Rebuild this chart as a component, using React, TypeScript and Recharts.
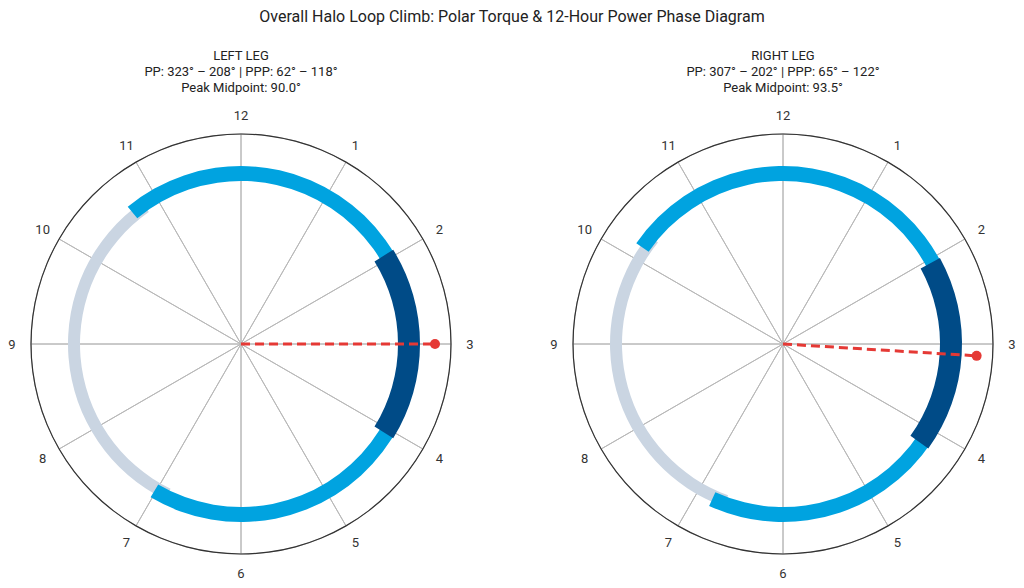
import { Pie, PieChart } from "recharts";

const RADIAN = Math.PI / 180;

// one entry per leg
const legNames = ["LEFT LEG", "RIGHT LEG"];
const ppStart = [323, 307];
const ppEnd = [208, 202];
const pppStart = [62, 65];
const pppEnd = [118, 122];
const peakMidpoint = [90.0, 93.5];

const hourLabels = ["12", "1", "2", "3", "4", "5", "6", "7", "8", "9", "10", "11"];

const CENTERS = [241, 783];
const CY = 344;
const OUTER = 210;

const hourData = hourLabels.map((h) => ({ name: h, value: 1 }));
const single = [{ name: "arc", value: 1 }];

// pedal degrees (0 = top, clockwise) -> recharts angles.
// arcs get a square "projecting" cap: half the band width added at each end
function arcAngles(start: number, end: number, inner: number, outer: number) {
  const pad = ((outer - inner) / 2 / ((outer + inner) / 2)) / RADIAN;
  const span = ((end - start + 360) % 360) + 2 * pad;
  const startAngle = 90 - start + pad;
  return { startAngle, endAngle: startAngle - span };
}

function renderHour(props: any) {
  const { cx, cy, midAngle, name } = props;
  const r = 229;
  const x = cx + r * Math.cos(-midAngle * RADIAN);
  const y = cy + r * Math.sin(-midAngle * RADIAN);
  return (
    <text
      x={x}
      y={y}
      textAnchor="middle"
      dominantBaseline="central"
      fontSize={13}
      fill="#333"
      fontFamily="Roboto, sans-serif"
    >
      {name}
    </text>
  );
}

function renderPeak(props: any) {
  const { cx, cy, midAngle, outerRadius } = props;
  const x = cx + outerRadius * Math.cos(-midAngle * RADIAN);
  const y = cy + outerRadius * Math.sin(-midAngle * RADIAN);
  return (
    <g>
      <line
        x1={cx}
        y1={cy}
        x2={x}
        y2={y}
        stroke="#E53935"
        strokeWidth={3}
        strokeDasharray="9 5"
      />
      <circle cx={x} cy={y} r={5} fill="#E53935" />
    </g>
  );
}

function band(
  key: string,
  cx: number,
  start: number,
  end: number,
  inner: number,
  outer: number,
  color: string
) {
  const a = arcAngles(start, end, inner, outer);
  return (
    <Pie
      key={key}
      data={single}
      dataKey="value"
      cx={cx}
      cy={CY}
      innerRadius={inner}
      outerRadius={outer}
      startAngle={a.startAngle}
      endAngle={a.endAngle}
      fill={color}
      stroke="none"
      isAnimationActive={false}
    />
  );
}

function legPies(i: number) {
  const cx = CENTERS[i];
  const peak = 90 - peakMidpoint[i];
  return [
    <Pie
      key={`spokes-${i}`}
      data={hourData}
      dataKey="value"
      cx={cx}
      cy={CY}
      innerRadius={0}
      outerRadius={OUTER}
      startAngle={90}
      endAngle={-270}
      fill="none"
      stroke="#b8b8b8"
      strokeWidth={1}
      isAnimationActive={false}
    />,
    <Pie
      key={`labels-${i}`}
      data={hourData}
      dataKey="value"
      cx={cx}
      cy={CY}
      innerRadius={0}
      outerRadius={OUTER}
      startAngle={105}
      endAngle={-255}
      fill="none"
      stroke="none"
      label={renderHour}
      labelLine={false}
      isAnimationActive={false}
    />,
    band(`gray-${i}`, cx, ppEnd[i], ppStart[i], 161, 173, "#CAD5E2"),
    band(`pp-${i}`, cx, ppStart[i], ppEnd[i], 163, 178, "#00A3E0"),
    band(`ppp-${i}`, cx, pppStart[i], pppEnd[i], 157, 179, "#004B87"),
    <Pie
      key={`rim-${i}`}
      data={single}
      dataKey="value"
      cx={cx}
      cy={CY}
      innerRadius={OUTER - 0.6}
      outerRadius={OUTER + 0.6}
      startAngle={90}
      endAngle={-270}
      fill="#333"
      stroke="none"
      isAnimationActive={false}
    />,
    <Pie
      key={`peak-${i}`}
      data={single}
      dataKey="value"
      cx={cx}
      cy={CY}
      innerRadius={0}
      outerRadius={194}
      startAngle={peak + 0.25}
      endAngle={peak - 0.25}
      fill="none"
      stroke="none"
      label={renderPeak}
      labelLine={false}
      isAnimationActive={false}
    />,
  ];
}

const fmt = (v: number) => `${v}°`;

export default function App() {
  return (
    <div
      style={{
        position: "absolute",
        left: 0,
        top: 0,
        width: 1024,
        height: 588,
        background: "#fff",
        fontFamily: "Roboto, sans-serif",
        color: "#222",
      }}
    >
      <div
        style={{
          position: "absolute",
          top: 6,
          left: 0,
          width: 1024,
          textAlign: "center",
          fontSize: 16,
          lineHeight: "22px",
        }}
      >
        Overall Halo Loop Climb: Polar Torque &amp; 12-Hour Power Phase Diagram
      </div>
      {legNames.map((name, i) => (
        <div
          key={name}
          style={{
            position: "absolute",
            top: 48,
            left: CENTERS[i] - 200,
            width: 400,
            textAlign: "center",
            fontSize: 13,
            lineHeight: "16px",
          }}
        >
          <div>{name}</div>
          <div>
            PP: {fmt(ppStart[i])} – {fmt(ppEnd[i])} | PPP: {fmt(pppStart[i])} –{" "}
            {fmt(pppEnd[i])}
          </div>
          <div>Peak Midpoint: {peakMidpoint[i].toFixed(1)}°</div>
        </div>
      ))}
      <div style={{ position: "absolute", left: 0, top: 0 }}>
        <PieChart width={1024} height={588} margin={{ top: 0, right: 0, bottom: 0, left: 0 }}>
          {legPies(0)}
          {legPies(1)}
        </PieChart>
      </div>
    </div>
  );
}
